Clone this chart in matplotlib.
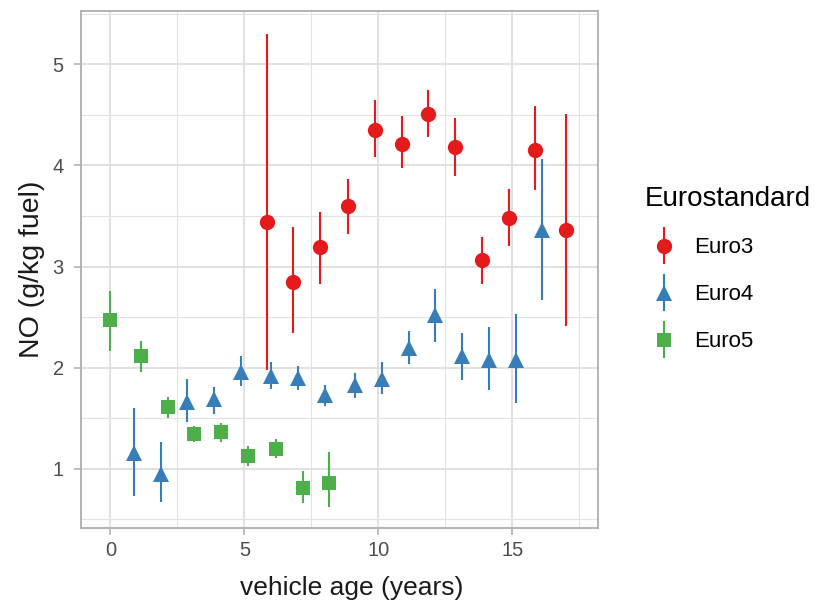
import numpy as np
import matplotlib
matplotlib.use("Agg")
import matplotlib.pyplot as plt
from matplotlib.legend_handler import HandlerErrorbar

plt.rcParams['font.family'] = ['Liberation Sans', 'DejaVu Sans']

# NO emission by vehicle age, per Euro standard (mean and interval)
age_e3 = [6, 7, 8, 9, 10, 11, 12, 13, 14, 15, 16, 17]
no_e3 = [3.44, 2.85, 3.19, 3.60, 4.35, 4.21, 4.51, 4.18, 3.06, 3.48, 4.15, 3.36]
lo_e3 = [1.98, 2.34, 2.83, 3.32, 4.08, 3.98, 4.28, 3.90, 2.83, 3.20, 3.76, 2.41]
hi_e3 = [5.30, 3.39, 3.54, 3.87, 4.65, 4.49, 4.75, 4.47, 3.29, 3.77, 4.59, 4.51]

age_e4 = [1, 2, 3, 4, 5, 6, 7, 8, 9, 10, 11, 12, 13, 14, 15, 16]
no_e4 = [1.15, 0.95, 1.66, 1.69, 1.96, 1.92, 1.90, 1.73, 1.83, 1.89, 2.19, 2.52, 2.11, 2.07, 2.07, 3.36]
lo_e4 = [0.73, 0.67, 1.46, 1.54, 1.82, 1.79, 1.78, 1.62, 1.70, 1.74, 2.03, 2.25, 1.88, 1.78, 1.65, 2.67]
hi_e4 = [1.60, 1.26, 1.89, 1.81, 2.11, 2.05, 2.01, 1.83, 1.95, 2.05, 2.36, 2.78, 2.34, 2.40, 2.53, 4.06]

age_e5 = [0, 1, 2, 3, 4, 5, 6, 7, 8]
no_e5 = [2.47, 2.11, 1.61, 1.34, 1.36, 1.12, 1.19, 0.81, 0.86]
lo_e5 = [2.16, 1.96, 1.50, 1.26, 1.26, 1.02, 1.10, 0.66, 0.62]
hi_e5 = [2.76, 2.26, 1.71, 1.42, 1.45, 1.22, 1.29, 0.98, 1.16]

series = [
    ("Euro3", age_e3, no_e3, lo_e3, hi_e3, "#E41A1C", "o", 11),
    ("Euro4", age_e4, no_e4, lo_e4, hi_e4, "#377EB8", "^", 12),
    ("Euro5", age_e5, no_e5, lo_e5, hi_e5, "#4DAF4A", "s", 10.5),
]

# dodge like ggplot position_dodge(width)
dodge_w = 0.52
groups_at = {}
for name, ages, *_ in series:
    for a in ages:
        groups_at.setdefault(a, []).append(name)

def dodge(name, ages):
    out = []
    for a in ages:
        g = groups_at[a]
        n = len(g)
        idx = g.index(name) + 1
        out.append(a + dodge_w * ((idx - 0.5) / n - 0.5))
    return np.array(out)

fig = plt.figure(figsize=(8.2, 6.09), dpi=100)
ax = fig.add_axes([0.0988, 0.133, 0.630, 0.849])

handles = []
for name, ages, y, lo, hi, col, mk, ms in series:
    x = dodge(name, ages)
    y = np.array(y)
    err = [y - np.array(lo), np.array(hi) - y]
    h = ax.errorbar(x, y, yerr=err, fmt=mk, color=col, ecolor=col,
                    elinewidth=1.5, markersize=ms, markeredgewidth=0,
                    capsize=0, label=name, zorder=3)
    handles.append(h)

ax.set_xlim(-1.1, 18.19)
ax.set_ylim(0.411, 5.53)
ax.set_xticks([0, 5, 10, 15])
ax.set_yticks([1, 2, 3, 4, 5])
ax.set_xticks([2.5, 7.5, 12.5, 17.5], minor=True)
ax.set_yticks([0.5, 1.5, 2.5, 3.5, 4.5, 5.5], minor=True)
ax.grid(True, which='major', color='#DEDEDE', linewidth=1.3, zorder=0)
ax.grid(True, which='minor', color='#E3E3E3', linewidth=0.8, zorder=0)
ax.set_axisbelow(True)
for s in ax.spines.values():
    s.set_color('#B3B3B3')
    s.set_linewidth(1.4)
ax.tick_params(which='major', length=5, width=1.2, color='#B3B3B3',
               labelcolor='#4D4D4D', labelsize=14.5)
ax.tick_params(axis='x', pad=4)
ax.tick_params(axis='y', pad=7.5)
ax.tick_params(which='minor', length=0)

ax.set_xlabel("vehicle age (years)", fontsize=19, color='#1A1A1A',
              labelpad=12, x=0.523)
ax.set_ylabel("NO (g/kg fuel)", fontsize=20.5, color='#1A1A1A', labelpad=5)

leg = fig.legend(handles=handles, labels=["Euro3", "Euro4", "Euro5"],
                 title="Eurostandard", loc='upper left',
                 bbox_to_anchor=(0.786, 0.694), frameon=False,
                 fontsize=16, title_fontsize=20, labelspacing=1.17,
                 handlelength=1.75, handletextpad=0.5, borderaxespad=0,
                 borderpad=0,
                 handler_map={type(handles[0]): HandlerErrorbar(yerr_size=0.85)})
leg._legend_box.align = "left"
leg._legend_box.sep = 18

fig.savefig("out.png", dpi=100)
